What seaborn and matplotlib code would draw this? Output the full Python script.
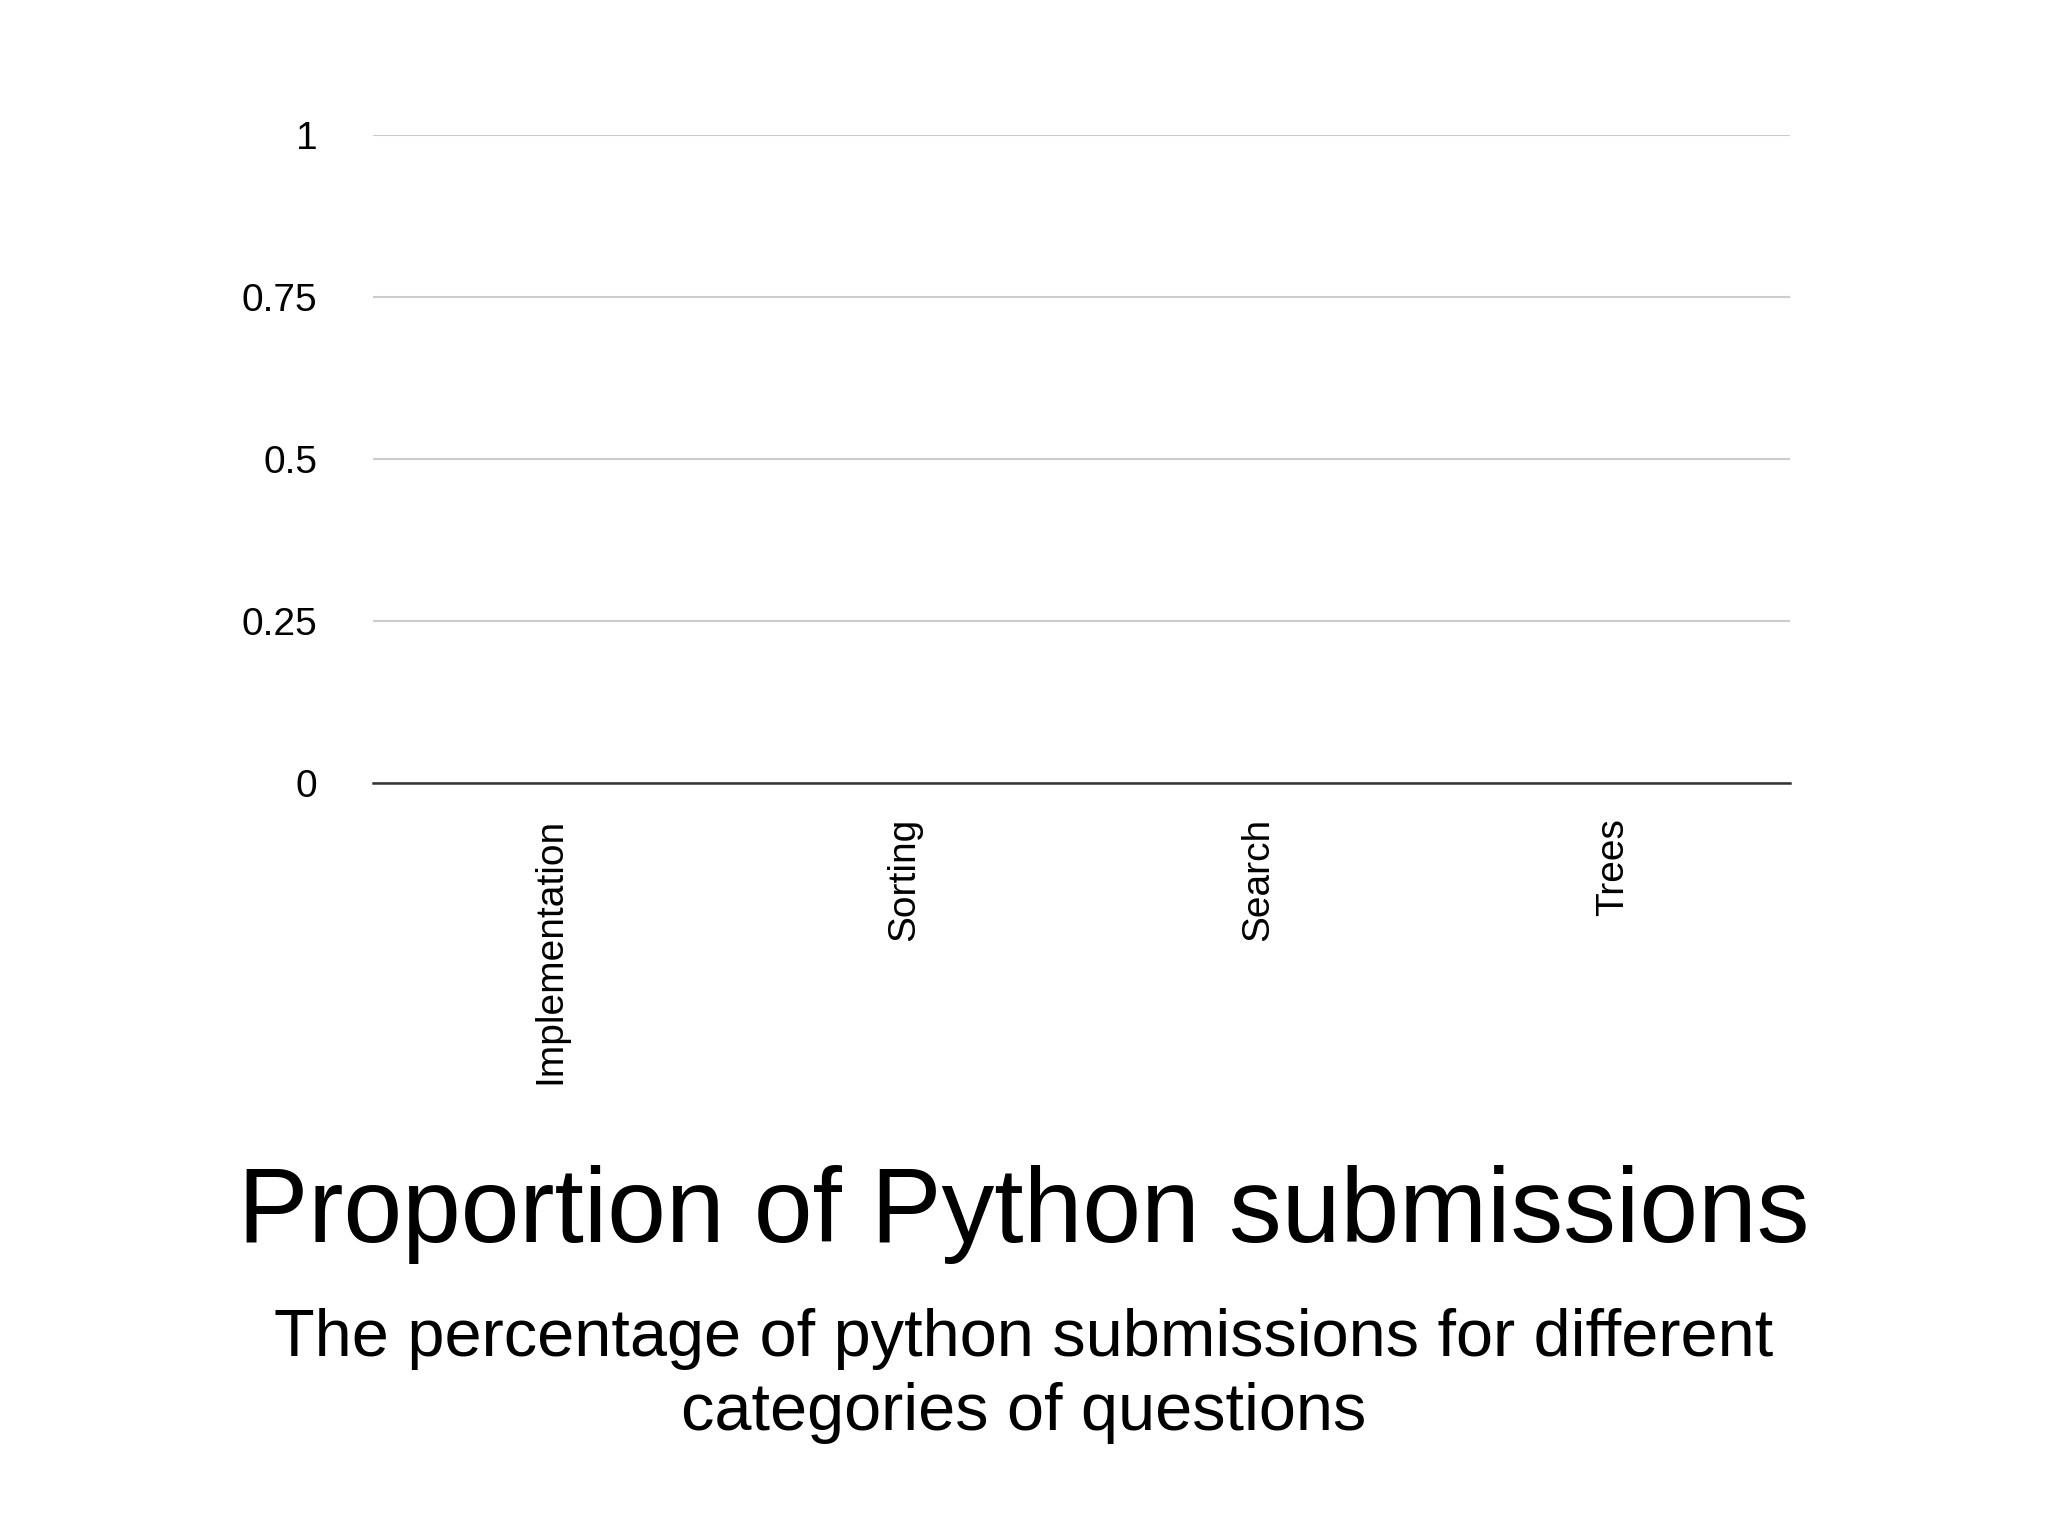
import matplotlib
matplotlib.use("Agg")
import matplotlib.pyplot as plt
import seaborn as sns
import pandas as pd

# ----------------------- Data -----------------------
categories = ["Implementation", "Sorting", "Search", "Trees"]
proportions = [0, 0, 0, 0]
y_ticks = [0, 0.25, 0.5, 0.75, 1]
y_tick_labels = ["0", "0.25", "0.5", "0.75", "1"]

df = pd.DataFrame({"category": categories, "proportion": proportions})

plt.rcParams["font.family"] = "Liberation Sans"
fig = plt.figure(figsize=(20.48, 15.36), dpi=100)
ax = fig.add_axes([0.182, 0.49, 0.692, 0.422])

sns.barplot(data=df, x="category", y="proportion", color="#4285f4", ax=ax)

ax.set_ylim(0, 1)
ax.set_yticks(y_ticks)
ax.set_yticklabels(y_tick_labels, fontsize=28)
ax.tick_params(axis="y", length=0, pad=40)
ax.tick_params(axis="x", length=0, pad=25, labelsize=28, labelrotation=90)
for lbl in ax.get_xticklabels():
    lbl.set_verticalalignment("top")
ax.set_xlabel("")
ax.set_ylabel("")
ax.grid(axis="y", color="#cccccc", linewidth=1.5)
ax.set_axisbelow(True)
for side in ["top", "right", "left"]:
    ax.spines[side].set_visible(False)
ax.spines["bottom"].set_color("#333333")
ax.spines["bottom"].set_linewidth(1.8)
ax.spines["bottom"].set_zorder(5)

fig.text(0.5, 0.209, "Proportion of Python submissions", ha="center", va="center", fontsize=76)
fig.text(0.5, 0.104, "The percentage of python submissions for different\ncategories of questions",
         ha="center", va="center", fontsize=48, linespacing=1.25)

fig.savefig("out.png", dpi=100, facecolor="white")
